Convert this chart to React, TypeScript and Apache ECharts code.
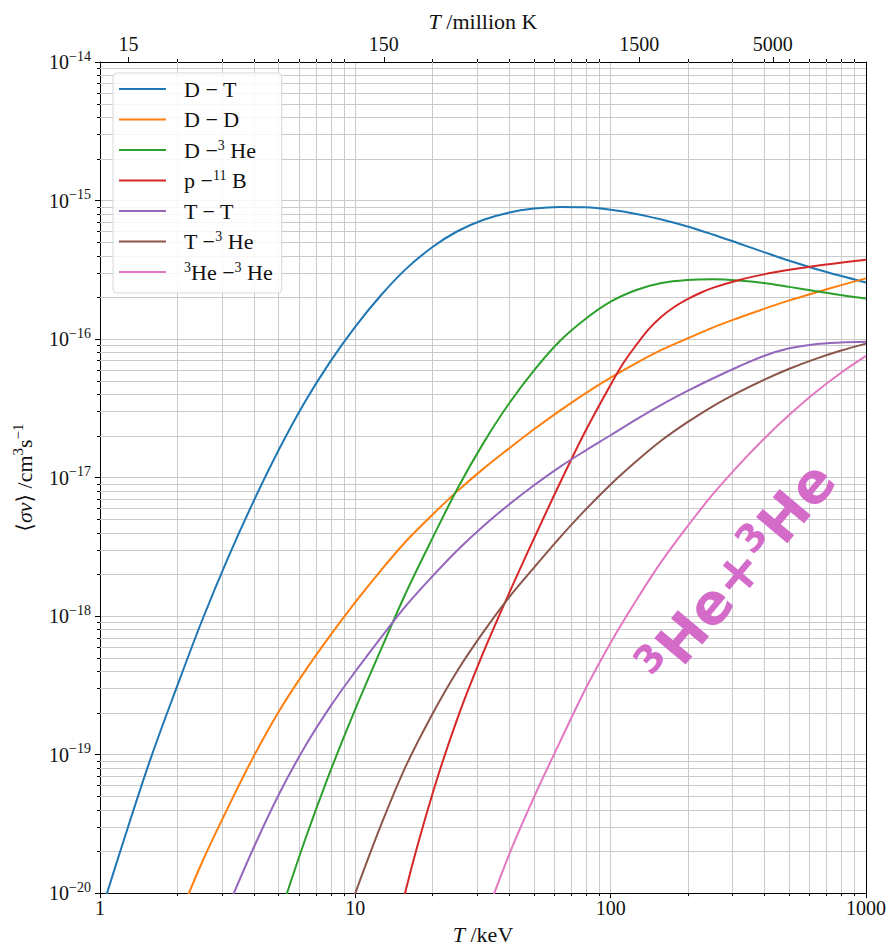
import React, { useEffect, useRef } from 'react';
import * as echarts from 'echarts';

// ---------- data (T in keV, <sigma v> in cm^3/s) ----------
const SERIES_NAMES = ['D-T', 'D-D', 'D-3He', 'p-11B', 'T-T', 'T-3He', '3He-3He'];
const LEGEND_LABELS = ['D − T', 'D − D', 'D −{s|3} He', 'p −{s|11} B', 'T − T', 'T −{s|3} He', '{s|3}He −{s|3} He'];
const COLORS = ['#1f77b4', '#ff7f0e', '#2ca02c', '#d62728', '#9467bd', '#8c564b', '#e377c2'];

// temperature sampling points (keV)
const TK = [1, 1.26, 1.58, 2, 2.51, 3.16, 3.98, 5.01, 6.31, 7.94, 10, 12.6, 15.8, 20, 25.1, 31.6, 39.8, 50.1, 63.1, 79.4, 100, 126, 158, 200, 251, 316, 398, 501, 631, 794, 1000];

const dtT = TK.slice(0);
const dtSv = [6.89e-21, 2.65e-20, 9.40e-20, 3.08e-19, 9.29e-19, 2.59e-18, 6.65e-18, 1.58e-17, 3.45e-17, 6.78e-17, 1.23e-16, 2.07e-16, 3.21e-16, 4.60e-16, 6.00e-16, 7.24e-16, 8.17e-16, 8.75e-16, 8.99e-16, 8.93e-16, 8.57e-16, 8.00e-16, 7.29e-16, 6.50e-16, 5.69e-16, 4.92e-16, 4.24e-16, 3.67e-16, 3.22e-16, 2.86e-16, 2.56e-16];

const ddT = TK.slice(3);
const ddSv = [6.12e-21, 1.67e-20, 4.09e-20, 9.55e-20, 2.04e-19, 3.94e-19, 7.16e-19, 1.26e-18, 2.14e-18, 3.47e-18, 5.37e-18, 7.98e-18, 1.15e-17, 1.61e-17, 2.23e-17, 3.03e-17, 4.04e-17, 5.26e-17, 6.70e-17, 8.34e-17, 1.01e-16, 1.21e-16, 1.42e-16, 1.65e-16, 1.90e-16, 2.16e-16, 2.44e-16, 2.74e-16];

const dhe3T = TK.slice(7);
const dhe3Sv = [6.56e-21, 2.34e-20, 7.40e-20, 2.13e-19, 5.74e-19, 1.48e-18, 3.62e-18, 8.30e-18, 1.75e-17, 3.38e-17, 5.94e-17, 9.64e-17, 1.39e-16, 1.86e-16, 2.26e-16, 2.54e-16, 2.67e-16, 2.70e-16, 2.65e-16, 2.54e-16, 2.38e-16, 2.22e-16, 2.08e-16, 1.96e-16];

const pbT = [12.6, 15.8, 20, 25.1, 31.6, 39.8, 50.1, 63.1, 79.4, 100, 112, 126, 141, 158, 178, 200, 224, 251, 316, 398, 501, 631, 794, 1000];
const pbSv = [1.70e-21, 1.07e-20, 5.13e-20, 1.82e-19, 5.37e-19, 1.43e-18, 3.63e-18, 9.02e-18, 2.14e-17, 4.68e-17, 6.68e-17, 9.06e-17, 1.18e-16, 1.45e-16, 1.71e-16, 1.94e-16, 2.15e-16, 2.34e-16, 2.66e-16, 2.93e-16, 3.16e-16, 3.37e-16, 3.56e-16, 3.74e-16];

const ttT = TK.slice(5);
const ttSv = [7.82e-21, 2.09e-20, 5.13e-20, 1.12e-19, 2.19e-19, 3.98e-19, 7.00e-19, 1.19e-18, 1.93e-18, 2.99e-18, 4.44e-18, 6.34e-18, 8.79e-18, 1.19e-17, 1.56e-17, 2.02e-17, 2.63e-17, 3.35e-17, 4.22e-17, 5.19e-17, 6.31e-17, 7.55e-17, 8.57e-17, 9.18e-17, 9.44e-17, 9.55e-17];

const the3T = TK.slice(9);
const the3Sv = [3.02e-21, 1.0e-20, 3.09e-20, 8.32e-20, 1.95e-19, 4.03e-19, 7.59e-19, 1.35e-18, 2.24e-18, 3.67e-18, 5.82e-18, 8.91e-18, 1.31e-17, 1.85e-17, 2.51e-17, 3.27e-17, 4.12e-17, 5.07e-17, 6.10e-17, 7.16e-17, 8.22e-17, 9.27e-17];

const he3he3T = TK.slice(15);
const he3he3Sv = [5.96e-21, 1.85e-20, 4.93e-20, 1.22e-19, 2.94e-19, 6.43e-19, 1.30e-18, 2.47e-18, 4.45e-18, 7.55e-18, 1.22e-17, 1.90e-17, 2.84e-17, 4.10e-17, 5.66e-17, 7.55e-17];

const SERIES_T = [dtT, ddT, dhe3T, pbT, ttT, the3T, he3he3T];
const SERIES_SV = [dtSv, ddSv, dhe3Sv, pbSv, ttSv, the3Sv, he3he3Sv];

// axes
const X_MIN = 1;
const X_MAX = 1000;
const Y_MIN = 1e-20;
const Y_MAX = 1e-14;
const MINOR_MANTISSAS = [2, 3, 4, 5, 6, 7, 8, 9];
const X_DECADES = [1, 10, 100];
const Y_DECADES = [1e-20, 1e-19, 1e-18, 1e-17, 1e-16, 1e-15];
const TOP_LABELS_MK = [15, 150, 1500, 5000];
const MK_PER_KEV = 11.6045;
const ANNOTATION = '{s|3}{b|He+}{s|3}{b|He}';

const SERIF = "'Liberation Serif', 'DejaVu Serif', serif";
const GRID = '#cacaca';
const ANNOT_COLOR = '#d56bc9';

export default function App() {
  const ref = useRef<HTMLDivElement>(null);

  useEffect(() => {
    document.body.style.margin = '0';
    if (!ref.current) return;
    const chart = echarts.init(ref.current, undefined, { renderer: 'svg' });

    const xMinor: number[] = [];
    X_DECADES.forEach((d) => MINOR_MANTISSAS.forEach((m) => xMinor.push(m * d)));
    const yMinor: number[] = [];
    Y_DECADES.forEach((d) => MINOR_MANTISSAS.forEach((m) => yMinor.push(Number((m * d).toPrecision(3)))));

    const lineSeries = SERIES_NAMES.map((name, i) => ({
      type: 'line',
      name,
      data: SERIES_T[i].map((t, j) => [t, SERIES_SV[i][j]]),
      smooth: 0.35,
      symbol: 'none',
      lineStyle: { color: COLORS[i], width: 2 },
      itemStyle: { color: COLORS[i] },
      z: 3,
      silent: true,
    }));

    const tickStyle = { stroke: '#000', lineWidth: 1 };

    const option: any = {
      animation: false,
      backgroundColor: '#fff',
      grid: { left: 100, right: 22, top: 62, bottom: 51 },
      legend: {
        orient: 'vertical',
        left: 113,
        top: 73,
        data: SERIES_NAMES,
        selectedMode: false,
        icon: 'rect',
        itemWidth: 47,
        itemHeight: 2,
        itemGap: 6.5,
        padding: [4, 9, 9, 6],
        backgroundColor: 'rgba(255,255,255,0.85)',
        borderColor: '#d8d8d8',
        borderWidth: 1,
        borderRadius: 4,
        formatter: (name: string) => LEGEND_LABELS[SERIES_NAMES.indexOf(name)],
        textStyle: {
          fontFamily: SERIF,
          fontSize: 22,
          lineHeight: 24,
          color: '#111',
          padding: [0, 0, 0, 13],
          rich: {
            s: { fontFamily: SERIF, fontSize: 14, lineHeight: 11, verticalAlign: 'top', color: '#111' },
          },
        },
      },
      xAxis: [
        {
          type: 'log',
          logBase: 10,
          min: X_MIN,
          max: X_MAX,
          position: 'bottom',
          axisLine: { show: true, onZero: false, lineStyle: { color: '#000', width: 1 } },
          axisTick: { show: true, inside: false, length: 5, lineStyle: { color: '#000', width: 1 } },
          axisLabel: {
            formatter: (v: number) => String(Math.round(v)),
            fontFamily: SERIF,
            fontSize: 20,
            color: '#111',
            margin: 5,
            showMinLabel: true,
            showMaxLabel: true,
          },
          splitLine: { show: true, lineStyle: { color: GRID, width: 1 } },
          name: '{i|T} /keV',
          nameLocation: 'middle',
          nameGap: 28,
          nameTextStyle: {
            fontFamily: SERIF,
            fontSize: 22,
            color: '#111',
            rich: { i: { fontFamily: SERIF, fontSize: 22, fontStyle: 'italic', color: '#111' } },
          },
        },
        {
          type: 'log',
          logBase: 10,
          min: X_MIN,
          max: X_MAX,
          position: 'top',
          axisLine: { show: true, onZero: false, lineStyle: { color: '#000', width: 1 } },
          axisTick: { show: false },
          axisLabel: { show: false },
          splitLine: { show: false },
          name: '{i|T} /million K',
          nameLocation: 'middle',
          nameGap: 30,
          nameTextStyle: {
            fontFamily: SERIF,
            fontSize: 22,
            color: '#111',
            rich: { i: { fontFamily: SERIF, fontSize: 22, fontStyle: 'italic', color: '#111' } },
          },
        },
      ],
      yAxis: [
        {
          type: 'log',
          logBase: 10,
          min: Y_MIN,
          max: Y_MAX,
          position: 'left',
          axisLine: { show: true, onZero: false, lineStyle: { color: '#000', width: 1 } },
          axisTick: { show: true, inside: false, length: 5, lineStyle: { color: '#000', width: 1 } },
          axisLabel: {
            formatter: (v: number) => {
              const e = Math.round(Math.log10(v));
              return `{b|10}{s|${e < 0 ? '−' : ''}${Math.abs(e)}}`;
            },
            margin: 9,
            showMinLabel: true,
            showMaxLabel: true,
            rich: {
              b: { fontFamily: SERIF, fontSize: 20, lineHeight: 26, color: '#111' },
              s: { fontFamily: SERIF, fontSize: 14, lineHeight: 14, verticalAlign: 'top', color: '#111' },
            },
          },
          splitLine: { show: true, lineStyle: { color: GRID, width: 1 } },
          name: '⟨{i|σv}⟩ /cm{s|3}s{s|−1}',
          nameLocation: 'middle',
          nameGap: 60,
          nameTextStyle: {
            fontFamily: SERIF,
            fontSize: 22,
            lineHeight: 28,
            color: '#111',
            rich: {
              i: { fontFamily: SERIF, fontSize: 22, lineHeight: 28, fontStyle: 'italic', color: '#111' },
              s: { fontFamily: SERIF, fontSize: 15, lineHeight: 14, verticalAlign: 'top', color: '#111' },
            },
          },
        },
        {
          type: 'log',
          logBase: 10,
          min: Y_MIN,
          max: Y_MAX,
          position: 'right',
          axisLine: { show: true, onZero: false, lineStyle: { color: '#000', width: 1 } },
          axisTick: { show: false },
          axisLabel: { show: false },
          splitLine: { show: false },
        },
      ],
      series: [
        {
          type: 'custom',
          name: 'x-minor',
          xAxisIndex: 0,
          yAxisIndex: 0,
          silent: true,
          clip: false,
          z: 1,
          data: xMinor.map((v) => [v, Y_MIN]),
          renderItem: (_p: any, api: any) => {
            const v = api.value(0);
            const a = api.coord([v, Y_MIN]);
            const b = api.coord([v, Y_MAX]);
            const x = Math.round(a[0]) + 0.5;
            return {
              type: 'group',
              children: [
                { type: 'line', shape: { x1: x, y1: a[1], x2: x, y2: b[1] }, style: { stroke: GRID, lineWidth: 1 } },
                { type: 'line', shape: { x1: x, y1: a[1], x2: x, y2: a[1] + 3 }, style: tickStyle },
                { type: 'line', shape: { x1: x, y1: b[1], x2: x, y2: b[1] - 3 }, style: tickStyle },
              ],
            };
          },
        },
        {
          type: 'custom',
          name: 'y-minor',
          xAxisIndex: 0,
          yAxisIndex: 0,
          silent: true,
          clip: false,
          z: 1,
          data: yMinor.map((v) => [X_MIN, v]),
          renderItem: (_p: any, api: any) => {
            const v = api.value(1);
            const a = api.coord([X_MIN, v]);
            const b = api.coord([X_MAX, v]);
            const y = Math.round(a[1]) + 0.5;
            return {
              type: 'group',
              children: [
                { type: 'line', shape: { x1: a[0], y1: y, x2: b[0], y2: y }, style: { stroke: GRID, lineWidth: 1 } },
                { type: 'line', shape: { x1: a[0], y1: y, x2: a[0] - 3, y2: y }, style: tickStyle },
              ],
            };
          },
        },
        {
          type: 'custom',
          name: 'top-ticks',
          xAxisIndex: 0,
          yAxisIndex: 0,
          silent: true,
          clip: false,
          z: 5,
          data: TOP_LABELS_MK.map((mk) => [mk / MK_PER_KEV, Y_MAX]),
          renderItem: (p: any, api: any) => {
            const pt = api.coord([api.value(0), api.value(1)]);
            const x = Math.round(pt[0]) + 0.5;
            return {
              type: 'group',
              children: [
                { type: 'line', shape: { x1: x, y1: pt[1], x2: x, y2: pt[1] - 5 }, style: tickStyle },
                {
                  type: 'text',
                  style: {
                    text: String(TOP_LABELS_MK[p.dataIndex]),
                    x: pt[0],
                    y: pt[1] - 8,
                    align: 'center',
                    verticalAlign: 'bottom',
                    fontFamily: SERIF,
                    fontSize: 20,
                    fill: '#111',
                  },
                },
              ],
            };
          },
        },
        ...lineSeries,
      ],
      graphic: [
        {
          type: 'text',
          x: 737,
          y: 573,
          rotation: (50 * Math.PI) / 180,
          z: 10,
          silent: true,
          style: {
            text: ANNOTATION,
            align: 'center',
            verticalAlign: 'middle',
            fill: ANNOT_COLOR,
            fontFamily: 'DejaVu Sans',
            fontWeight: 'bold',
            fontSize: 56,
            rich: {
              b: { fontFamily: 'DejaVu Sans', fontWeight: 'bold', fontSize: 56, lineHeight: 62, fill: ANNOT_COLOR },
              s: { fontFamily: 'DejaVu Sans', fontWeight: 'bold', fontSize: 38, lineHeight: 38, verticalAlign: 'top', fill: ANNOT_COLOR },
            },
          },
        },
      ],
    };

    chart.setOption(option);
    return () => chart.dispose();
  }, []);

  return <div ref={ref} style={{ width: 889, height: 950 }} />;
}
